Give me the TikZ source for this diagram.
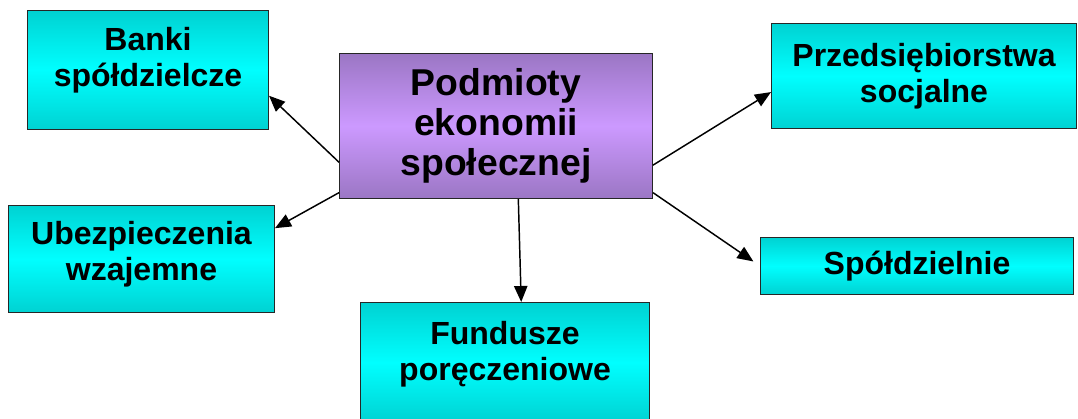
\documentclass[tikz,border=0pt]{standalone}
\usepackage{fontspec}
\setmainfont{Liberation Sans}
\usetikzlibrary{arrows.meta}
\definecolor{cyanedge}{RGB}{0,210,210}
\definecolor{cyanmid}{RGB}{0,255,255}
\definecolor{lilacedge}{RGB}{155,118,196}
\definecolor{lilacmid}{RGB}{204,153,255}
\tikzstyle{rect} = [rectangle, draw=black!85, line width=0.75pt, top color=cyanedge, bottom color=cyanedge, middle color=cyanmid, align=center, anchor=north west, font=\bfseries\fontsize{24}{27}\selectfont]
\tikzstyle{main} = [rect, top color=lilacedge, bottom color=lilacedge, middle color=lilacmid, font=\bfseries\fontsize{28}{30}\selectfont]
\tikzstyle{link} = [-{Triangle[length=12pt,width=10pt]}, line width=1.1pt]

\begin{document}
\begin{tikzpicture}[x=0.75pt, y=0.75pt]
            \useasboundingbox (0,0) rectangle (1078,418);

            \node (PES) [main, minimum width=234.75pt, minimum height=108.75pt] at (339,365) {Podmioty\\ekonomii\\społecznej};

            \node (BS) [rect, text depth=20pt, minimum width=180.75pt, minimum height=89.25pt] at (27,408) {Banki\\spółdzielcze};
            \node (PS) [rect, minimum width=228.75pt, minimum height=78.75pt] at (771,395) {Przedsiębiorstwa\\socjalne};
            \node (UW) [rect, text depth=12pt, minimum width=199.5pt, minimum height=80.25pt] at (8,213) {Ubezpieczenia\\wzajemne};
            \node (S) [rect, minimum width=234.75pt, minimum height=42.75pt] at (760,181) {Spółdzielnie};
            \node (FP) [rect, text depth=18pt, minimum width=216.75pt, minimum height=90pt] at (360,116) {Fundusze\\poręczeniowe};

            \draw [link] (PES.193.5) -- (BS.348);
            \draw [link] (PES.203) -- (UW.13);
            \draw [link] (PES.287) -- (FP.75.5);
            \draw [link] (PES.346.5) -- (PS.186.5);
            \draw [link, shorten >=6pt] (PES.337) -- (S.west);
        \end{tikzpicture}
\end{document}
